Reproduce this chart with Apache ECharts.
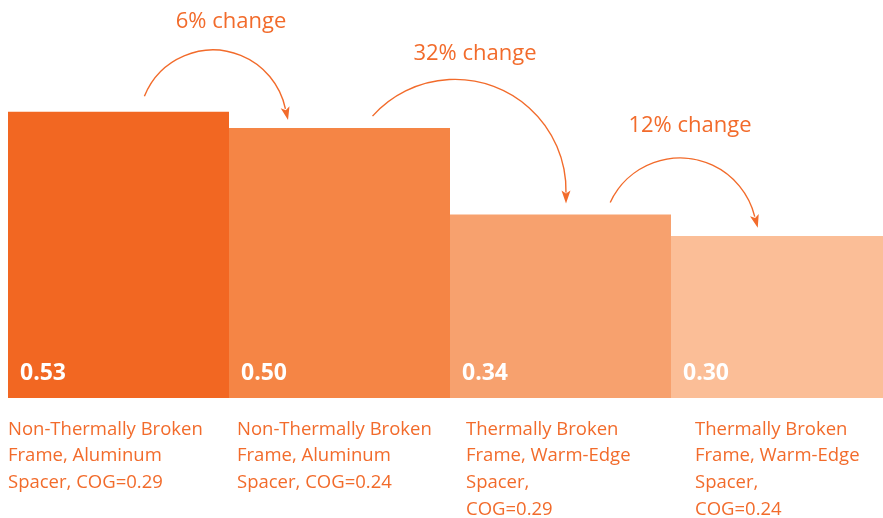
<!DOCTYPE html>
<html><head><meta charset="utf-8">
<script src="https://cdn.jsdelivr.net/npm/echarts@6/dist/echarts.min.js"></script>
<style>html,body{margin:0;padding:0;background:#fff}#c{width:883px;height:518px}</style>
</head><body><div id="c"></div>
<script>
const categories = [
  'Non-Thermally Broken\nFrame, Aluminum\nSpacer, COG=0.29',
  'Non-Thermally Broken\nFrame, Aluminum\nSpacer, COG=0.24',
  'Thermally Broken\nFrame, Warm-Edge\nSpacer,\nCOG=0.29',
  'Thermally Broken\nFrame, Warm-Edge\nSpacer,\nCOG=0.24'
];
const values = [0.53, 0.50, 0.34, 0.30];
const valueLabels = ['0.53', '0.50', '0.34', '0.30'];
const changeLabels = ['6% change', '32% change', '12% change'];

const barColors = ['#f26722', '#f58545', '#f7a16e', '#fbbe97'];
const textColor = '#f26b2b';
const FONT = '"Open Sans", sans-serif';
// arrow layout (pixels, relative to bar boundary / next bar top)
const arrowLayout = [
  { dx: -16, dy: -4,  r: 74,  a0: -158, a1: -13, tdx: 18, tdy: -28 },
  { dx: 5,   dy: -24, r: 111, a0: -138, a1: 0,   tdx: 20, tdy: -26 },
  { dx: 9,   dy: -1,  r: 77,  a0: -155, a1: -15, tdx: 10, tdy: -32 }
];

const chart = echarts.init(document.getElementById('c'), null, { renderer: 'canvas' });

function renderArrow(params, api) {
  const i = api.value(0);
  const L = arrowLayout[i];
  const p0 = api.coord([i, values[i]]);
  const p1 = api.coord([i + 1, values[i + 1]]);
  const boundary = (p0[0] + p1[0]) / 2;
  const cx = boundary + L.dx;
  const cy = p1[1] + L.dy;
  const a0 = L.a0 * Math.PI / 180, a1 = L.a1 * Math.PI / 180;
  const bx = cx + L.r * Math.cos(a1), by = cy + L.r * Math.sin(a1);
  const dxv = -Math.sin(a1), dyv = Math.cos(a1);
  const nx = -dyv, ny = dxv;
  const len = 13, hw = 4.5, notch = 3;
  const tip = [bx + dxv * len, by + dyv * len];
  const pts = [
    tip,
    [bx + nx * hw, by + ny * hw],
    [bx + dxv * notch, by + dyv * notch],
    [bx - nx * hw, by - ny * hw]
  ];
  return {
    type: 'group',
    children: [
      { type: 'arc', shape: { cx: cx, cy: cy, r: L.r, startAngle: a0, endAngle: a1 + 0.02, clockwise: true },
        style: { stroke: textColor, lineWidth: 1.4, fill: null } },
      { type: 'polygon', shape: { points: pts }, style: { fill: textColor } },
      { type: 'text', style: { text: changeLabels[i], x: cx + L.tdx, y: cy - L.r + L.tdy,
          fill: textColor, font: '22px ' + FONT, align: 'center', verticalAlign: 'middle' } }
    ]
  };
}

chart.setOption({
  animation: false,
  backgroundColor: '#ffffff',
  grid: [
    { left: 8, width: 884, top: 20, bottom: 120, outerBoundsMode: 'none', containLabel: false },
    { left: 8, width: 687, top: 20, bottom: 120, outerBoundsMode: 'none', containLabel: false }
  ],
  xAxis: [
    { type: 'category', gridIndex: 0, data: categories, axisLine: { show: false }, axisTick: { show: false }, axisLabel: { show: false } },
    { type: 'category', gridIndex: 1, data: categories, boundaryGap: false,
      axisLine: { show: false }, axisTick: { show: false },
      axisLabel: { interval: 0, align: 'left', margin: 18, color: textColor, fontSize: 18.5, lineHeight: 26.7, fontFamily: FONT } }
  ],
  yAxis: [
    { type: 'value', gridIndex: 0, min: 0, max: 0.7, show: false },
    { type: 'value', gridIndex: 1, min: 0, max: 0.7, show: false }
  ],
  series: [
    {
      type: 'bar', xAxisIndex: 0, yAxisIndex: 0,
      barCategoryGap: '0%', barGap: 0,
      data: values.map((v, i) => ({ value: v, itemStyle: { color: barColors[i] } })),
      label: {
        show: true, position: 'insideBottomLeft', distance: 12, offset: [0, -1],
        formatter: p => valueLabels[p.dataIndex],
        color: '#ffffff', fontSize: 23, fontWeight: 'bold', fontFamily: FONT
      }
    },
    {
      type: 'custom', xAxisIndex: 0, yAxisIndex: 0, clip: false,
      data: changeLabels.map((t, i) => [i, values[i]]),
      renderItem: renderArrow, z: 5
    }
  ]
});
</script>
</body></html>
